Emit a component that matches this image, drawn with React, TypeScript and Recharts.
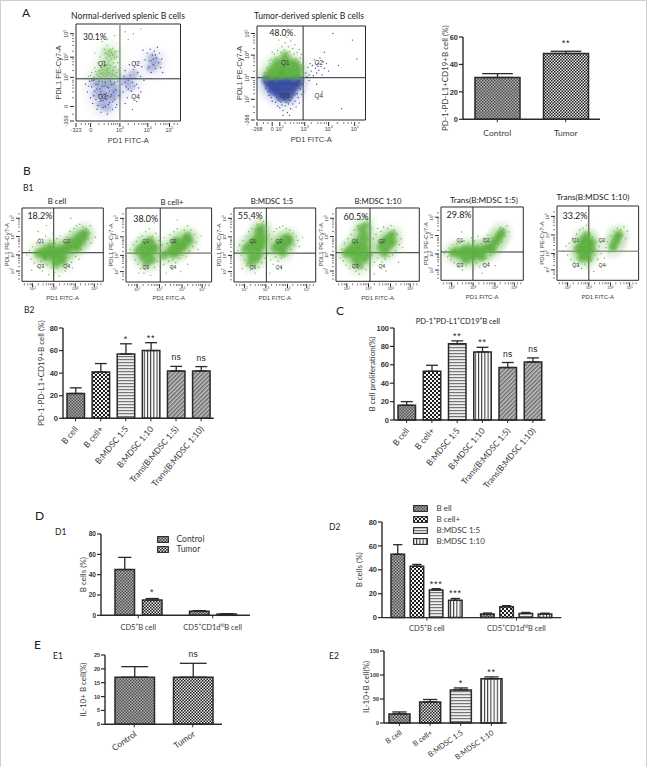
import React from "react";
import {
  Bar,
  BarChart,
  Cell,
  ErrorBar,
  LabelList,
  Legend,
  ReferenceArea,
  ReferenceDot,
  ReferenceLine,
  Scatter,
  ScatterChart,
  XAxis,
  YAxis,
} from "recharts";

const INK = "#2a2a2a";
const TEXT = "#3a3a3a";
const SANS = "'Liberation Sans', sans-serif";
const SOFT = "Lato, 'Open Sans', sans-serif";
const GREEN = "#6cb84c";
const BLUE = "#3f52a3";

type Pt = number[];

// flow plots: percent of the plot box, x to the right, y upward
const a1GreenBlobs: Pt[] = [[22,47],[27,50],[32,46],[26,54],[33,53],[38,49],[30,60],[33,69],[29,71],[36,68]];
const a1GreenDots: Pt[] = [[12,46],[15,50],[17,45],[18,55],[20,48],[21,60],[22,52],[23,66],[24,45],[24,57],[25,49],[26,62],[27,74],[28,58],[28,46],[29,65],[30,53],[30,78],[31,50],[31,62],[32,72],[33,57],[34,46],[34,64],[35,75],[35,52],[36,60],[37,47],[37,70],[38,56],[39,66],[39,50],[40,45],[40,60],[41,53],[41,72],[30,84],[37,88],[25,82],[18,70],[47,92],[55,90],[62,95],[50,84],[14,47],[19,51],[22,46],[23,49],[25,53],[26,47],[27,56],[29,48],[29,52],[30,58],[31,47],[32,54],[32,67],[33,49],[34,71],[35,48],[35,68],[36,55],[37,65],[38,46],[30,69],[33,74],[28,70],[38,72]];
const a1BlueBlobs: Pt[] = [[18,40],[24,36],[30,39],[36,35],[20,28],[27,26],[33,24],[24,17],[30,14],[38,28],[48,42],[52,36],[55,48],[73,65],[77,60],[72,55]];
const a1BlueDots: Pt[] = [[9,38],[11,30],[13,41],[14,24],[15,35],[16,18],[17,42],[18,31],[19,22],[20,12],[21,38],[22,27],[23,33],[24,9],[25,41],[26,21],[27,36],[28,15],[29,29],[30,7],[31,34],[32,19],[33,41],[34,27],[35,12],[36,38],[37,22],[38,32],[39,17],[40,41],[41,26],[44,38],[45,30],[46,46],[47,52],[48,35],[49,24],[50,42],[51,58],[52,47],[53,31],[54,40],[55,53],[56,44],[57,60],[58,38],[59,50],[60,34],[62,46],[63,56],[65,42],[66,63],[68,70],[69,54],[70,62],[71,74],[72,50],[73,68],[74,58],[75,72],[76,54],[77,65],[78,76],[79,60],[80,70],[81,55],[82,64],[83,50],[64,73],[58,20],[54,12],[47,18],[62,30],[12,36],[15,42],[17,26],[19,38],[20,33],[22,41],[23,20],[24,30],[25,36],[26,14],[27,28],[28,40],[29,22],[30,35],[31,17],[32,31],[33,25],[34,38],[35,20],[36,30],[37,40],[38,14],[21,16],[25,25],[30,26],[47,40],[50,33],[53,44],[56,36],[72,62],[74,64],[76,68],[70,56]];

const a2GreenBlobs: Pt[] = [[10,47],[14,49],[18,47],[22,50],[26,48],[30,50],[34,47],[38,49],[14,54],[19,55],[24,56],[29,55],[34,54],[38,55],[18,61],[24,62],[30,61],[35,60],[26,68],[22,50]];
const a2GreenDots: Pt[] = [[7,50],[9,55],[12,60],[13,65],[15,58],[16,70],[18,66],[19,74],[20,68],[21,62],[22,72],[23,78],[24,65],[25,75],[26,82],[27,71],[28,66],[29,78],[30,73],[31,84],[32,68],[33,76],[34,70],[35,80],[36,65],[37,72],[38,62],[39,75],[40,66],[41,58],[42,52],[27,88],[35,90],[20,85],[41,70],[43,48],[11,63],[14,72]];
const a2BlueBlobs: Pt[] = [[9,42],[13,41],[18,42],[23,42],[28,42],[33,42],[38,42],[12,36],[17,36],[22,36],[27,36],[32,36],[37,37],[15,31],[20,30],[26,30],[32,30],[22,25],[28,24]];
const a2BlueDots: Pt[] = [[7,40],[8,34],[10,30],[11,26],[13,24],[14,20],[16,27],[17,19],[18,24],[19,15],[20,21],[21,13],[22,19],[23,16],[24,10],[25,22],[26,15],[27,19],[28,8],[29,17],[30,21],[31,12],[32,24],[33,17],[34,27],[35,20],[36,14],[37,28],[38,24],[39,18],[40,33],[41,27],[42,38],[43,30],[30,5],[24,5],[45,50],[47,56],[48,48],[49,60],[50,52],[51,58],[52,47],[53,64],[54,55],[55,50],[56,60],[57,53],[58,66],[59,57],[60,48],[61,62],[62,55],[64,60],[66,52],[46,46],[48,42],[55,38],[62,72],[70,92],[88,85],[92,65],[75,58],[60,30],[78,12]];

const b1Blobs: Pt[] = [[20,38],[25,40],[30,36],[30,42],[35,38],[38,33],[40,42],[42,36],[45,30],[45,40],[48,44],[50,35],[52,42],[55,47],[58,45],[60,52],[63,48],[65,55],[68,52],[70,60],[72,55],[74,64],[76,60],[78,66],[68,46],[35,47],[28,34],[42,24],[50,28]];
const b1Dots: Pt[] = [[6,36],[9,42],[11,30],[13,47],[15,25],[16,38],[18,52],[19,20],[22,58],[23,27],[25,14],[27,50],[29,62],[31,22],[33,9],[34,56],[36,18],[38,66],[40,12],[41,52],[43,58],[44,17],[46,7],[47,62],[49,20],[51,54],[53,14],[55,24],[56,60],[58,32],[59,68],[61,26],[62,38],[64,72],[66,34],[67,76],[69,40],[71,78],[73,44],[75,74],[77,50],[79,72],[81,58],[83,66],[85,52],[70,30],[62,18],[84,76],[30,76],[20,68],[60,86],[12,15],[90,60]];

const b2Blobs: Pt[] = [[14,42],[18,46],[22,40],[22,50],[26,45],[30,42],[30,50],[34,46],[26,36],[20,34],[24,26],[30,30],[28,56],[50,40],[54,44],[56,38],[58,48],[60,42],[62,50],[64,46],[66,54],[68,50],[70,58],[72,62],[58,55],[74,56],[44,36]];
const b2Dots: Pt[] = [[5,44],[8,38],[9,50],[11,30],[12,55],[14,24],[15,60],[17,18],[19,62],[21,12],[23,68],[25,18],[27,72],[29,9],[31,62],[33,20],[35,66],[37,28],[38,56],[40,16],[42,50],[44,24],[45,60],[47,12],[48,52],[50,28],[51,64],[53,20],[55,30],[56,68],[58,26],[60,72],[62,32],[64,14],[66,36],[68,70],[70,34],[72,76],[74,42],[76,70],[78,48],[80,64],[82,54],[84,44],[72,24],[24,82],[33,80],[15,12],[88,62],[60,84]];

const b3Blobs: Pt[] = [[14,44],[18,48],[22,42],[22,52],[26,47],[30,44],[26,56],[30,54],[34,50],[30,62],[34,66],[36,58],[34,74],[30,70],[22,34],[26,30],[30,36],[20,26],[50,46],[54,50],[56,44],[58,54],[60,48],[62,58],[64,52],[66,60],[68,56],[60,40]];
const b3Dots: Pt[] = [[5,42],[7,50],[9,36],[11,56],[13,30],[15,62],[16,22],[18,68],[20,16],[22,72],[24,20],[26,12],[28,78],[30,20],[32,84],[34,26],[36,82],[38,32],[40,72],[42,40],[43,64],[45,30],[46,58],[48,24],[49,68],[51,34],[52,72],[54,28],[56,74],[58,32],[60,76],[62,34],[64,72],[66,38],[68,70],[70,44],[72,66],[74,50],[76,62],[78,56],[80,48],[58,18],[44,12],[30,88],[20,84],[84,60],[10,18]];

const b4Blobs: Pt[] = [[12,38],[16,42],[20,36],[20,46],[24,40],[24,52],[28,46],[28,34],[32,40],[32,52],[36,46],[36,58],[30,60],[34,66],[30,72],[36,76],[24,28],[28,22],[34,30],[38,36],[54,46],[56,52],[60,44],[60,56],[64,50],[64,60],[68,54],[68,64],[58,38]];
const b4Dots: Pt[] = [[5,32],[7,44],[9,28],[10,52],[12,22],[14,58],[16,18],[18,64],[20,20],[22,70],[24,14],[26,76],[28,10],[30,84],[32,18],[34,90],[36,16],[38,84],[40,24],[42,72],[43,36],[45,58],[46,26],[48,64],[50,32],[50,72],[52,38],[54,68],[55,26],[57,74],[59,30],[62,72],[64,34],[66,76],[68,36],[70,70],[72,42],[74,64],[76,50],[78,58],[80,46],[82,40],[75,26],[60,14],[46,10]];

const b5Blobs: Pt[] = [[14,37],[18,40],[22,36],[26,40],[28,34],[30,42],[34,36],[36,42],[38,32],[40,38],[44,34],[44,42],[48,38],[50,32],[52,42],[56,44],[60,46],[64,50],[67,54],[70,58],[72,62],[74,66],[62,42],[30,28]];
const b5Dots: Pt[] = [[4,36],[6,40],[8,32],[10,44],[12,28],[14,48],[16,24],[19,50],[21,20],[24,52],[26,14],[28,54],[30,20],[33,50],[35,24],[37,58],[39,16],[41,54],[43,24],[45,60],[47,18],[49,50],[51,22],[53,56],[55,30],[57,62],[58,24],[60,34],[62,58],[64,38],[66,62],[68,44],[70,48],[72,72],[74,52],[76,70],[78,60],[80,74],[82,66],[66,20],[50,10],[25,66],[38,70]];

const b6Blobs: Pt[] = [[26,42],[30,38],[30,46],[34,34],[34,42],[34,50],[38,38],[38,46],[38,54],[42,42],[42,50],[32,54],[36,60],[30,30],[38,30],[70,48],[72,54],[74,58],[76,62],[68,44]];
const b6Dots: Pt[] = [[8,40],[11,46],[13,34],[15,50],[17,28],[19,56],[21,24],[23,44],[24,62],[26,20],[28,68],[30,16],[32,70],[34,22],[36,74],[38,18],[40,64],[42,26],[44,58],[46,34],[48,52],[50,28],[52,46],[54,36],[56,54],[58,30],[60,44],[62,52],[64,38],[66,60],[68,52],[70,66],[72,42],[74,70],[76,50],[78,68],[80,60],[82,72],[84,56],[60,20],[45,12],[30,80],[86,66]];

const aXTicks = [0,5,9,12,14,22,27,31,34,36,38,40,42,50,56,60,63,65,67,68.7,76,81,84,86,88,89.5,94,97];
const aYTicks = [0,7,15,24,30,34,37,40,42,45,52,58,61,64,65.8,72,78,82,85,88,90];
const a1XLabels: Record<number, string> = { 0: "-323", 14: "0", 42: "10^3^", 68.7: "10^4^", 89.5: "10^5^" };
const a1YLabels: Record<number, string> = { 0: "-350", 15: "0", 45: "10^3^", 65.8: "10^4^", 90: "10^5^" };
const a2XTicks = [0,6,10,14,21,26,31,34,37,39,41,42.5,44,50,56,59,62,64,66,74,80,84,87,90,94];
const a2YTicks = [0,8,14,22,28,32,35,38,40,42,45,52,58,62,65,67,69,76,82,85,88,90,92];
const a2XLabels: Record<number, string> = { 0: "-268", 14: "0", 21: "10^2^", 44: "10^3^", 66: "10^4^", 90: "10^5^" };
const a2YLabels: Record<number, string> = { 0: "-268", 22: "10^2^", 45: "10^3^", 69: "10^4^", 92: "10^5^" };
const b1XTicks = [3,7,10,12,13,20,26,30,33,35,37,39,46,52,56,59,61,63,65.5,72,78,82,85,87,89,93,97];
const b1YTicks = [3,8,11,14,20,25,28,31,33,35,36,41,47,51,54,56,58,61,68,74,78,81,84,86,92];
const b1XLabels: Record<number, string> = { 13: "10^2^", 39: "10^3^", 65.5: "10^4^", 89: "10^5^" };
const b1YLabels: Record<number, string> = { 14: "10^2^", 36: "10^3^", 61: "10^4^", 86: "10^5^" };

const aCategories = ["Control", "Tumor"];
const aValues = [30.5, 48];
const aErrors = [2.8, 1.6];
const aMarks = ["", "**"];

const sixCategories = ["B cell", "B cell+", "B:MDSC 1:5", "B:MDSC 1:10", "Trans(B:MDSC 1:5)", "Trans(B:MDSC 1:10)"];
const b2Values = [22, 41, 57, 60, 42, 42];
const b2Errors = [5, 7.5, 9, 7, 4, 3.8];
const b2Marks = ["", "", "*", "**", "ns", "ns"];
const cValues = [16, 53, 83, 74, 57, 63];
const cErrors = [4, 6.5, 3, 5, 5.5, 4.5];
const cMarks = ["", "", "**", "**", "ns", "ns"];

const dCategories = ["CD5^+^B cell", "CD5^+^CD1d^hi^B cell"];
const d1Control = [45, 4];
const d1ControlErr = [12, 0.6];
const d1Tumor = [15, 1.2];
const d1TumorErr = [1.5, 0.4];
const d1TumorMarks = ["*", ""];
const d2Names = ["B ell", "B cell+", "B:MDSC 1:5", "B:MDSC 1:10"];
const d2Cell = [53, 3];
const d2CellErr = [8, 0.8];
const d2Plus = [43, 9];
const d2PlusErr = [1.5, 1];
const d2Mdsc5 = [23, 3.5];
const d2Mdsc5Err = [1.2, 0.8];
const d2Mdsc5Marks = ["***", ""];
const d2Mdsc10 = [14.5, 3];
const d2Mdsc10Err = [1.5, 0.7];
const d2Mdsc10Marks = ["***", ""];

const e1Values = [17, 17];
const e1Errors = [3.8, 5];
const e1Marks = ["", "ns"];
const e2Categories = ["B cell", "B cell+", "B:MDSC 1:5", "B:MDSC 1:10"];
const e2Values = [19, 44, 69, 92];
const e2Errors = [4, 5, 4, 4];
const e2Marks = ["", "", "*", "**"];

// "10^3^" style strings: every second piece is raised
function rich(s: string, size: number) {
  const rise = size * 0.4;
  return s.split("^").map((part, i) => (
    <tspan key={i} fontSize={i % 2 ? size * 0.65 : size} dy={i === 0 ? 0 : i % 2 ? -rise : rise}>
      {part}
    </tspan>
  ));
}

function Patterns() {
  const check = (id: string, s: number, a: string, b: string) => (
    <pattern id={id} width={s * 2} height={s * 2} patternUnits="userSpaceOnUse">
      <rect width={s * 2} height={s * 2} fill={b} />
      <rect width={s} height={s} fill={a} />
      <rect x={s} y={s} width={s} height={s} fill={a} />
    </pattern>
  );
  return (
    <svg width={0} height={0} style={{ position: "absolute" }}>
      <defs>
        {check("fine", 1.5, "#4f4f4f", "#adadad")}
        {check("coarse", 2, "#1c1c1c", "#f4f4f4")}
        {check("small", 1.5, "#1e1e1e", "#e8e8e8")}
        <pattern id="hStripe" width={3} height={3} patternUnits="userSpaceOnUse">
          <rect width={3} height={3} fill="#eee" />
          <rect width={3} height={1.2} fill="#777" />
        </pattern>
        <pattern id="vStripe" width={3.2} height={3} patternUnits="userSpaceOnUse">
          <rect width={3.2} height={3} fill="#fafafa" />
          <rect width={1} height={3} fill="#333" />
        </pattern>
        <pattern id="diag" width={3} height={3} patternUnits="userSpaceOnUse" patternTransform="rotate(45)">
          <rect width={3} height={3} fill="#c4c4c4" />
          <rect width={1.5} height={3} fill="#6c6c6c" />
        </pattern>
        <radialGradient id="softGreen">
          <stop offset="0%" stopColor="#4fa734" stopOpacity={0.85} />
          <stop offset="55%" stopColor="#5cb040" stopOpacity={0.55} />
          <stop offset="100%" stopColor="#6cb84c" stopOpacity={0} />
        </radialGradient>
        <radialGradient id="softBlue">
          <stop offset="0%" stopColor="#2a3f9c" stopOpacity={0.9} />
          <stop offset="55%" stopColor="#33479f" stopOpacity={0.6} />
          <stop offset="100%" stopColor="#3f52a3" stopOpacity={0} />
        </radialGradient>
      </defs>
    </svg>
  );
}

const toPoints = (list: Pt[]) => list.map(([x, y]) => ({ x, y }));

interface Cloud {
  blobs: Pt[];
  dots: Pt[];
  color: string;
  soft: string;
}

interface FlowProps {
  box: number[];
  gate: number[];
  gateColor?: string[];
  clouds: Cloud[];
  xTicks: number[];
  yTicks: number[];
  xLabels: Record<number, string>;
  yLabels: Record<number, string>;
  pct: string;
  pctAt: number[];
  qAt: number[];
  size: number;
  pctSize: number;
  blobR: number;
  blobOpacity: number;
  haloOpacity: number;
  labelGap: number;
  xLabelY: number;
}

function FlowPlot(p: FlowProps) {
  const [bx, by, bw, bh] = p.box;
  const L = 30;
  const T = 3;
  const B = 30;
  const tickText = p.size * 0.72;
  const xTick = (t: any) => {
    const label = p.xLabels[t.payload.value];
    return (
      <g>
        <line x1={t.x} x2={t.x} y1={t.y} y2={t.y + (label ? 4 : 2)} stroke={INK} strokeWidth={label ? 1 : 0.6} />
        {label && (
          <text x={t.x} y={t.y + p.size + 1} textAnchor="middle" fontSize={tickText} fontFamily={SANS} fill={TEXT}>
            {rich(label, tickText)}
          </text>
        )}
      </g>
    );
  };
  const yTick = (t: any) => {
    const label = p.yLabels[t.payload.value];
    return (
      <g>
        <line x1={t.x} x2={t.x - (label ? 4 : 2)} y1={t.y} y2={t.y} stroke={INK} strokeWidth={label ? 1 : 0.6} />
        {label && (
          <text
            transform={`translate(${t.x - 6},${t.y}) rotate(-90)`}
            textAnchor="middle"
            fontSize={tickText}
            fontFamily={SANS}
            fill={TEXT}
          >
            {rich(label, tickText)}
          </text>
        )}
      </g>
    );
  };
  return (
    <div style={{ position: "absolute", left: bx - L, top: by - T }}>
      <ScatterChart width={bw + L + 4} height={bh + T + B} margin={{ top: T, right: 4, bottom: 0, left: 0 }}>
        <XAxis
          type="number"
          dataKey="x"
          domain={[0, 100]}
          ticks={p.xTicks}
          interval={0}
          tick={xTick}
          tickSize={0}
          height={B}
          axisLine={false}
          label={{
            value: "PD1 FITC-A",
            position: "insideBottom",
            offset: B - p.xLabelY - 3,
            style: { fontSize: p.size, fontFamily: SANS, fill: TEXT },
          }}
        />
        <YAxis
          type="number"
          dataKey="y"
          domain={[0, 100]}
          ticks={p.yTicks}
          interval={0}
          tick={yTick}
          tickSize={0}
          width={L}
          axisLine={false}
          label={{
            value: "PDL1 PE-Cy7-A",
            angle: -90,
            position: "insideLeft",
            offset: L - p.labelGap,
            style: { fontSize: p.size, fontFamily: SANS, fill: TEXT, textAnchor: "middle" },
          }}
        />
        {p.clouds.map((c, i) => (
          <Scatter
            key={`h${i}`}
            data={toPoints(c.blobs)}
            isAnimationActive={false}
            shape={(s: any) => (
              <circle cx={s.cx} cy={s.cy} r={p.blobR * 2.4} fill={`url(#${c.soft})`} opacity={p.haloOpacity} />
            )}
          />
        ))}
        {p.clouds.map((c, i) => (
          <Scatter
            key={`b${i}`}
            data={toPoints(c.blobs)}
            isAnimationActive={false}
            shape={(s: any) => (
              <circle cx={s.cx} cy={s.cy} r={p.blobR} fill={`url(#${c.soft})`} opacity={p.blobOpacity} />
            )}
          />
        ))}
        {p.clouds.map((c, i) => (
          <Scatter
            key={`d${i}`}
            data={toPoints(c.dots)}
            isAnimationActive={false}
            shape={(s: any) => <circle cx={s.cx} cy={s.cy} r={0.7} fill={c.color} />}
          />
        ))}
        <ReferenceArea x1={0} x2={100} y1={0} y2={100} fill="none" stroke={INK} strokeWidth={1} />
        <ReferenceLine x={p.gate[0]} stroke={p.gateColor?.[0] || INK} strokeWidth={p.gateColor?.[0] ? 1.6 : 1} />
        <ReferenceLine y={p.gate[1]} stroke={p.gateColor?.[1] || INK} strokeWidth={p.gateColor?.[1] ? 1.6 : 1} />
        <ReferenceDot
          x={p.pctAt[0]}
          y={p.pctAt[1]}
          r={0}
          stroke="none"
          label={{ value: p.pct, position: "center", style: { fontSize: p.pctSize, fontFamily: SOFT, fill: "#222" } }}
        />
        {["Q1", "Q2", "Q3", "Q4"].map((q, i) => (
          <ReferenceDot
            key={q}
            x={p.qAt[i % 2]}
            y={p.qAt[2 + (i >> 1)]}
            r={0}
            stroke="none"
            label={{ value: q, position: "center", style: { fontSize: p.size * 0.85, fontFamily: SANS, fill: "#333" } }}
          />
        ))}
      </ScatterChart>
    </div>
  );
}

interface BarSeries {
  name?: string;
  values: number[];
  errors: number[];
  marks?: string[];
  patterns: string[];
}

interface BarProps {
  axisX: number;
  topY: number;
  zeroY: number;
  endX: number;
  max: number;
  yTicks: number[];
  categories: string[];
  series: BarSeries[];
  barSize: number;
  barGap?: number;
  yLabel: string;
  labelX: number;
  tickSize: number;
  catSize: number;
  angle: number;
  catDy: number;
  yLabelSize: number;
  markLift?: number;
  legend?: { left: number; top: number; rowH: number; swatch: number; size: number };
}

function BarPanel(p: BarProps) {
  const L = 44;
  const T = 26;
  const B = 92;
  const rows = p.categories.map((cat, i) => {
    const row: Record<string, any> = { cat };
    p.series.forEach((s, j) => {
      row[`v${j}`] = s.values[i];
      row[`e${j}`] = [0, s.errors[i]];
      if (s.marks?.[i]) row[`m${j}`] = s.marks[i];
    });
    return row;
  });
  const catTick = (t: any) =>
    p.angle ? (
      <text
        transform={`translate(${t.x + 3},${t.y + 6}) rotate(${p.angle})`}
        textAnchor="end"
        fontSize={p.catSize}
        fontFamily={SOFT}
        fill={TEXT}
      >
        {t.payload.value}
      </text>
    ) : (
      <text x={t.x} y={t.y + p.catDy} textAnchor="middle" fontSize={p.catSize} fontFamily={SOFT} fill={TEXT}>
        {rich(t.payload.value, p.catSize)}
      </text>
    );
  const legendContent = (lp: any) => (
    <div>
      {(lp.payload ?? []).map((entry: any, i: number) => (
        <div key={i} style={{ height: p.legend!.rowH, display: "flex", alignItems: "center" }}>
          <svg width={p.legend!.swatch} height={7} style={{ marginRight: 8 }}>
            <rect
              x={0.6}
              y={0.6}
              width={p.legend!.swatch - 1.2}
              height={5.8}
              fill={`url(#${p.series[i].patterns[0]})`}
              stroke={INK}
              strokeWidth={1.1}
            />
          </svg>
          <span style={{ font: `${p.legend!.size}px ${SOFT}`, color: TEXT, whiteSpace: "nowrap" }}>{entry.value}</span>
        </div>
      ))}
    </div>
  );
  return (
    <div style={{ position: "absolute", left: p.axisX - L, top: p.topY - T }}>
      <BarChart
        width={p.endX - p.axisX + L + 8}
        height={p.zeroY - p.topY + T + B}
        data={rows}
        margin={{ top: T, right: 8, bottom: 0, left: 0 }}
        barGap={p.barGap ?? 0}
      >
        <XAxis
          dataKey="cat"
          interval={0}
          height={B}
          tickSize={3}
          tick={catTick}
          axisLine={{ stroke: INK, strokeWidth: 1.4 }}
          tickLine={{ stroke: INK, strokeWidth: 1 }}
        />
        <YAxis
          type="number"
          domain={[0, p.max]}
          ticks={p.yTicks}
          interval={0}
          width={L}
          tickSize={4}
          tickMargin={1}
          tick={{ fontSize: p.tickSize, fontFamily: SANS, fontWeight: 700, fill: "#333" }}
          axisLine={{ stroke: INK, strokeWidth: 1.4 }}
          tickLine={{ stroke: INK, strokeWidth: 1.2 }}
          label={{
            value: p.yLabel,
            angle: -90,
            position: "insideLeft",
            offset: p.labelX - (p.axisX - L),
            style: { fontSize: p.yLabelSize, fontFamily: SOFT, fill: TEXT, textAnchor: "middle" },
          }}
        />
        {p.legend && (
          <Legend
            layout="vertical"
            align="center"
            verticalAlign="middle"
            itemSorter={null}
            content={legendContent}
            wrapperStyle={{ left: p.legend.left - (p.axisX - L), top: p.legend.top - (p.topY - T), width: 120 }}
          />
        )}
        {p.series.map((s, j) => (
          <Bar
            key={j}
            name={s.name}
            dataKey={`v${j}`}
            barSize={p.barSize}
            fill={`url(#${s.patterns[0]})`}
            stroke={INK}
            strokeWidth={1.5}
            isAnimationActive={false}
          >
            {rows.map((_, i) => (
              <Cell key={i} fill={`url(#${s.patterns[i % s.patterns.length]})`} />
            ))}
            <ErrorBar
              dataKey={`e${j}`}
              direction="y"
              width={p.barSize * 0.34}
              stroke={INK}
              strokeWidth={1.3}
              isAnimationActive={false}
            />
            <LabelList
              dataKey={`m${j}`}
              content={(m: any) => {
                if (!m.value) return null;
                const vb = m.viewBox ?? m;
                const unit = vb.height / s.values[m.index];
                const ns = m.value === "ns";
                const y = vb.y - s.errors[m.index] * unit - (ns ? 6 : 2) - (p.markLift ?? 0);
                return (
                  <text
                    x={vb.x + vb.width / 2}
                    y={y}
                    textAnchor="middle"
                    fontSize={ns ? 8.5 : 9}
                    fontFamily={SANS}
                    fill="#222"
                    letterSpacing={ns ? 0.3 : 0.8}
                  >
                    {m.value}
                  </text>
                );
              }}
            />
          </Bar>
        ))}
      </BarChart>
    </div>
  );
}

const panelText: [string, number, number, number][] = [
  ["A", 22, 17, 12],
  ["B", 23, 175, 12],
  ["B1", 23, 191, 8.5],
  ["B2", 24, 313, 8.5],
  ["C", 336, 315, 12],
  ["D", 35, 520, 12],
  ["D1", 55, 535, 8.5],
  ["D2", 329, 530, 8.5],
  ["E", 34, 649, 12],
  ["E1", 53, 659, 8.5],
  ["E2", 329, 659, 8.5],
];

const flowTitles: [string, number, number, number][] = [
  ["Normal-derived splenic B cells", 128, 19, 8.6],
  ["Tumor-derived splenic B cells", 309, 19, 8.6],
  ["B cell", 57, 203.5, 7.8],
  ["B cell+", 172, 205, 7.8],
  ["B:MDSC 1:5", 272, 204, 7.8],
  ["B:MDSC 1:10", 378, 204, 7.8],
  ["Trans(B:MDSC 1:5)", 484, 203, 8.2],
  ["Trans(B:MDSC 1:10)", 593, 199.5, 8.2],
];

const b1Q = [23, 55, 54.5, 20];
const green = (blobs: Pt[], dots: Pt[]): Cloud => ({ blobs, dots, color: GREEN, soft: "softGreen" });
const b1Common = {
  xTicks: b1XTicks,
  yTicks: b1YTicks,
  xLabels: b1XLabels,
  yLabels: b1YLabels,
  qAt: b1Q,
  size: 6,
  pctSize: 9,
  blobR: 6,
  blobOpacity: 0.85,
  haloOpacity: 0.18,
  labelGap: 15,
  xLabelY: 15.5,
};

export default function App() {
  return (
    <div
      style={{
        position: "absolute",
        left: 0,
        top: 0,
        width: 647,
        height: 767,
        background: "#fff",
        overflow: "hidden",
        boxSizing: "border-box",
        borderLeft: "1.5px solid #cfcfcf",
        borderTop: "1px solid #cfcfcf",
        borderRight: "1.5px solid #cfcfcf",
      }}
    >
      <div style={{ position: "absolute", left: -1.5, top: -1, width: 647, height: 767 }}>
        <Patterns />
        <FlowPlot
          box={[76, 23.5, 104.5, 97]}
          gate={[42, 43.5]}
          gateColor={["#9a9a9a", ""]}
          clouds={[
            { blobs: a1BlueBlobs, dots: a1BlueDots, color: BLUE, soft: "softBlue" },
            green(a1GreenBlobs, a1GreenDots),
          ]}
          xTicks={aXTicks}
          yTicks={aYTicks}
          xLabels={a1XLabels}
          yLabels={a1YLabels}
          pct="30.1%"
          pctAt={[18, 87]}
          qAt={[25, 57, 59, 25]}
          size={7.5}
          pctSize={8.5}
          blobR={7}
          blobOpacity={0.3}
          haloOpacity={0.06}
          labelGap={18}
          xLabelY={19}
        />
        <FlowPlot
          box={[257.5, 26, 108.5, 94]}
          gate={[42.5, 45]}
          clouds={[
            { blobs: a2BlueBlobs, dots: a2BlueDots, color: BLUE, soft: "softBlue" },
            green(a2GreenBlobs, a2GreenDots),
          ]}
          xTicks={a2XTicks}
          yTicks={a2YTicks}
          xLabels={a2XLabels}
          yLabels={a2YLabels}
          pct="48.0%"
          pctAt={[22.5, 93]}
          qAt={[26, 57, 61, 26]}
          size={7.5}
          pctSize={8.5}
          blobR={7}
          blobOpacity={0.9}
          haloOpacity={0.08}
          labelGap={18}
          xLabelY={19}
        />
        <FlowPlot box={[22.7, 207.7, 81.3, 73.3]} gate={[39, 39]} clouds={[green(b1Blobs, b1Dots)]} pct="18.2%" pctAt={[22, 90]} {...b1Common} />
        <FlowPlot box={[126.7, 207.7, 85.6, 74]} gate={[40, 39]} gateColor={["", "#9a9a9a"]} clouds={[green(b2Blobs, b2Dots)]} pct="38.0%" pctAt={[23, 86]} {...b1Common} />
        <FlowPlot box={[234.3, 208.3, 81.7, 74]} gate={[39.6, 39]} clouds={[green(b3Blobs, b3Dots)]} pct="55.4%" pctAt={[20, 89]} {...b1Common} />
        <FlowPlot box={[336, 207.7, 83.3, 73.3]} gate={[40.8, 39]} clouds={[green(b4Blobs, b4Dots)]} pct="60.5%" pctAt={[24, 88]} {...b1Common} />
        <FlowPlot box={[441.7, 206.7, 82.3, 73.3]} gate={[38.8, 38.6]} clouds={[green(b5Blobs, b5Dots)]} pct="29.8%" pctAt={[22, 89]} {...b1Common} />
        <FlowPlot box={[557.7, 205.7, 81.6, 74.3]} gate={[39, 39]} gateColor={["", "#9a9a9a"]} clouds={[green(b6Blobs, b6Dots)]} pct="33.2%" pctAt={[22, 87]} {...b1Common} />

        <BarPanel
          axisX={463}
          topY={36.7}
          zeroY={119}
          endX={600}
          max={60}
          yTicks={[0, 20, 40, 60]}
          categories={aCategories}
          series={[{ values: aValues, errors: aErrors, marks: aMarks, patterns: ["fine", "small"] }]}
          barSize={45}
          yLabel="PD-1-PD-L1+CD19+B cell (%)"
          labelX={445}
          tickSize={7.5}
          catSize={8.5}
          angle={0}
          catDy={12}
          yLabelSize={8}
          markLift={3}
        />
        <BarPanel
          axisX={63.3}
          topY={327.7}
          zeroY={418}
          endX={214}
          max={80}
          yTicks={[0, 20, 40, 60, 80]}
          categories={sixCategories}
          series={[{ values: b2Values, errors: b2Errors, marks: b2Marks, patterns: ["fine", "coarse", "hStripe", "vStripe", "diag", "diag"] }]}
          barSize={17.5}
          yLabel="PD-1-PD-L1+CD19+B cell (%)"
          labelX={41}
          tickSize={7.5}
          catSize={8.5}
          angle={-50}
          catDy={0}
          yLabelSize={8}
        />
        <BarPanel
          axisX={394.5}
          topY={327.7}
          zeroY={419.7}
          endX={546}
          max={100}
          yTicks={[0, 20, 40, 60, 80, 100]}
          categories={sixCategories}
          series={[{ values: cValues, errors: cErrors, marks: cMarks, patterns: ["fine", "coarse", "hStripe", "vStripe", "diag", "diag"] }]}
          barSize={17.5}
          yLabel="B cell proliferation(%)"
          labelX={373}
          tickSize={7.5}
          catSize={8.5}
          angle={-50}
          catDy={0}
          yLabelSize={8}
        />
        <BarPanel
          axisX={101}
          topY={533.7}
          zeroY={615}
          endX={250}
          max={80}
          yTicks={[0, 20, 40, 60, 80]}
          categories={dCategories}
          series={[
            { name: "Control", values: d1Control, errors: d1ControlErr, patterns: ["fine"] },
            { name: "Tumor", values: d1Tumor, errors: d1TumorErr, marks: d1TumorMarks, patterns: ["small"] },
          ]}
          barSize={19.5}
          barGap={8}
          yLabel="B cells (%)"
          labelX={83}
          tickSize={6.5}
          catSize={7.5}
          angle={0}
          catDy={10}
          yLabelSize={8}
          markLift={2}
          legend={{ left: 157, top: 534, rowH: 10.2, swatch: 12, size: 8.5 }}
        />
        <BarPanel
          axisX={382.7}
          topY={521.7}
          zeroY={617.3}
          endX={562}
          max={80}
          yTicks={[0, 20, 40, 60, 80]}
          categories={dCategories}
          series={[
            { name: d2Names[0], values: d2Cell, errors: d2CellErr, patterns: ["fine"] },
            { name: d2Names[1], values: d2Plus, errors: d2PlusErr, patterns: ["coarse"] },
            { name: d2Names[2], values: d2Mdsc5, errors: d2Mdsc5Err, marks: d2Mdsc5Marks, patterns: ["hStripe"] },
            { name: d2Names[3], values: d2Mdsc10, errors: d2Mdsc10Err, marks: d2Mdsc10Marks, patterns: ["vStripe"] },
          ]}
          barSize={13.5}
          barGap={5.7}
          yLabel="B cells (%)"
          labelX={360}
          tickSize={7.5}
          catSize={7.5}
          angle={0}
          catDy={8}
          yLabelSize={8}
          legend={{ left: 414, top: 503, rowH: 11, swatch: 15, size: 8 }}
        />
        <BarPanel
          axisX={105}
          topY={655}
          zeroY={724.3}
          endX={222}
          max={25}
          yTicks={[0, 5, 10, 15, 20, 25]}
          categories={aCategories}
          series={[{ values: e1Values, errors: e1Errors, marks: e1Marks, patterns: ["fine", "small"] }]}
          barSize={39.5}
          yLabel="IL-10+ B cell(%)"
          labelX={83}
          tickSize={5.5}
          catSize={8.5}
          angle={-35}
          catDy={0}
          yLabelSize={8}
        />
        <BarPanel
          axisX={384}
          topY={651}
          zeroY={723}
          endX={506.7}
          max={150}
          yTicks={[0, 50, 100, 150]}
          categories={e2Categories}
          series={[{ values: e2Values, errors: e2Errors, marks: e2Marks, patterns: ["fine", "small", "hStripe", "vStripe"] }]}
          barSize={21}
          yLabel="IL-10+B cell(%)"
          labelX={366}
          tickSize={5.5}
          catSize={7.5}
          angle={-35}
          catDy={0}
          yLabelSize={8}
        />

        <svg width={647} height={767} style={{ position: "absolute", left: 0, top: 0, pointerEvents: "none" }}>
          {panelText.map(([t, x, y, size]) => (
            <text key={t} x={x} y={y} fontSize={size} fontFamily={SOFT} fill="#222">
              {t}
            </text>
          ))}
          {flowTitles.map(([t, x, y, size]) => (
            <text key={t} x={x} y={y} fontSize={size} fontFamily={SOFT} fill="#222" textAnchor="middle">
              {t}
            </text>
          ))}
          <text x={458} y={324} fontSize={7.5} fontFamily={SOFT} fill="#222" textAnchor="middle">
            {rich("PD-1^+^PD-L1^+^CD19^+^B cell", 7.5)}
          </text>
        </svg>
      </div>
    </div>
  );
}
